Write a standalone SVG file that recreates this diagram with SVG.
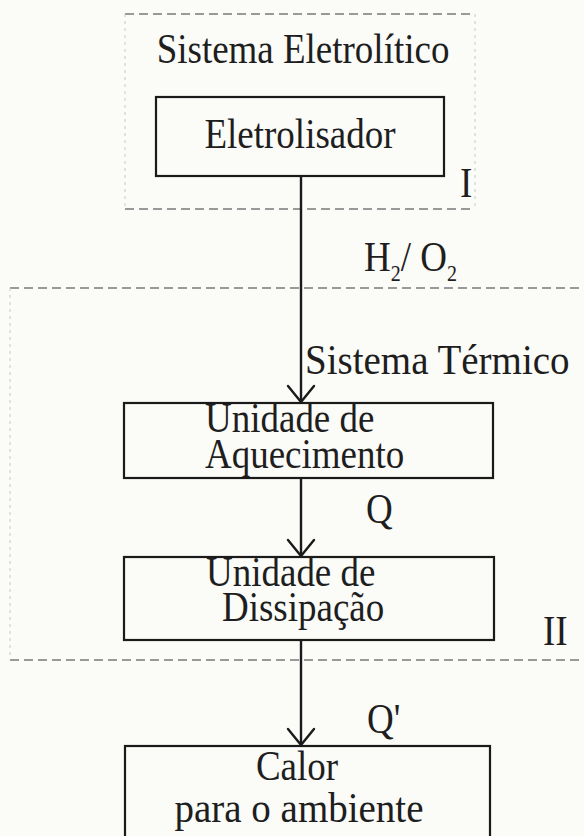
<svg xmlns="http://www.w3.org/2000/svg" width="584" height="836" viewBox="0 0 584 836">
<style>
  .bg{fill:#fbfbf8}
  .box{fill:none;stroke:#1a1a1a;stroke-width:2.2}
  .dash{stroke:#7a7a7a;stroke-width:1.5;stroke-dasharray:9 5;fill:none}
  .faint{stroke:#c8c8c8;stroke-width:1;stroke-dasharray:3 4;fill:none}
  .line{stroke:#1a1a1a;stroke-width:2.4;fill:none}
  .head{stroke:#1a1a1a;stroke-width:2.4;fill:none;stroke-linecap:round;stroke-linejoin:round}
  text{font-family:"Liberation Serif","Times New Roman",serif;font-size:37px;fill:#1e1e1e}
  .c{text-anchor:middle}
  .big{font-size:39px}
  .sub{font-size:20px}
</style>
<rect class="bg" x="0" y="0" width="584" height="836"/>

<g id="region-I">
  <line class="dash" x1="125" y1="14" x2="474" y2="14"/>
  <line class="dash" x1="125" y1="209" x2="474" y2="209"/>
  <line class="faint" x1="125" y1="14" x2="125" y2="209"/>
  <line class="faint" x1="475" y1="14" x2="475" y2="209"/>
  <text class="c" transform="translate(303 63) scale(1 1.12)">Sistema Eletrolítico</text>
  <text transform="translate(460 197) scale(1 1.12)">I</text>
</g>

<g id="region-II">
  <line class="dash" x1="10" y1="288" x2="584" y2="288"/>
  <line class="dash" x1="10" y1="660" x2="584" y2="660"/>
  <line class="faint" x1="10" y1="288" x2="10" y2="660"/>
  <text class="big" transform="translate(305 374) scale(1 1.08)">Sistema Térmico</text>
  <text transform="translate(543 645) scale(1 1.12)">II</text>
</g>

<g id="eletrolisador">
  <rect class="box" x="156" y="97" width="288" height="79"/>
  <text class="c" transform="translate(300 148) scale(1 1.12)">Eletrolisador</text>
</g>

<g id="aquecimento">
  <rect class="box" x="124" y="403" width="369" height="75"/>
  <text transform="translate(205 432) scale(1 1.12)">Unidade de<tspan x="0" dy="32">Aquecimento</tspan></text>
</g>

<g id="dissipacao">
  <rect class="box" x="124" y="557" width="370" height="83"/>
  <text transform="translate(206 586) scale(1 1.12)">Unidade de<tspan x="16" dy="31">Dissipação</tspan></text>
</g>

<g id="calor">
  <rect class="box" x="125" y="746" width="365" height="100"/>
  <text class="c" transform="translate(297 780) scale(1 1.12)">Calor</text>
  <text class="c big" transform="translate(299 822) scale(1 1.08)">para o ambiente</text>
</g>

<g id="connectors">
  <line class="line" x1="301" y1="176" x2="301" y2="402"/>
  <polyline class="head" points="288,386 301,402 314,386"/>
  <line class="line" x1="301" y1="478" x2="301" y2="556"/>
  <polyline class="head" points="288,540 301,556 314,540"/>
  <line class="line" x1="301" y1="640" x2="301" y2="745"/>
  <polyline class="head" points="288,729 301,745 314,729"/>
</g>

<g id="labels">
  <text transform="translate(364 271) scale(1 1.12)">H<tspan class="sub" dy="9">2</tspan><tspan dy="-9">/ O</tspan><tspan class="sub" dy="9">2</tspan></text>
  <text transform="translate(366 523) scale(1 1.12)">Q</text>
  <text transform="translate(367 733) scale(1 1.12)">Q'</text>
</g>
</svg>
